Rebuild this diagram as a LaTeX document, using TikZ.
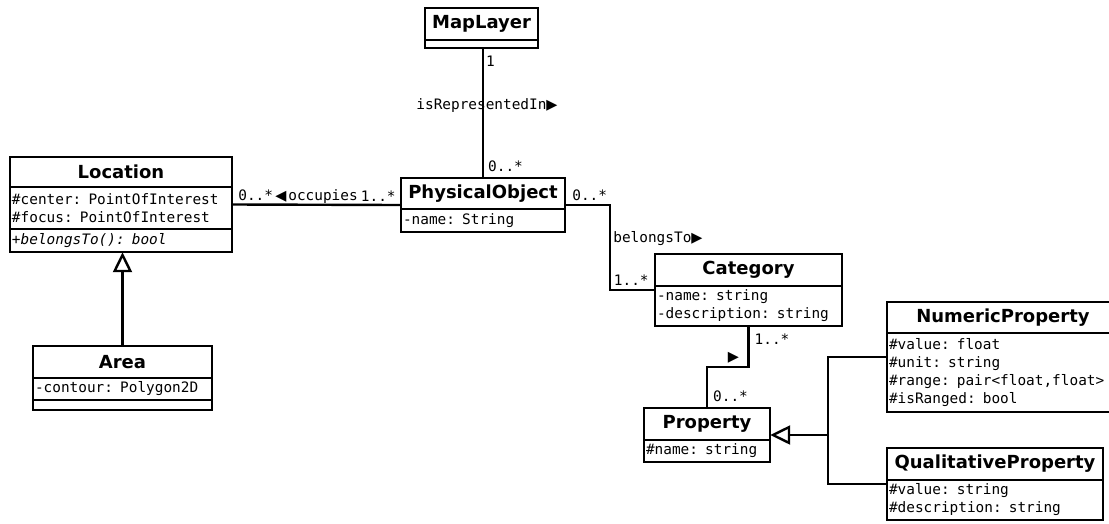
\documentclass[tikz,border=0pt]{standalone}
\usepackage{fontspec}
\setsansfont{DejaVu Sans}
\setmonofont{DejaVu Sans Mono}
\newfontfamily\trifont{DejaVu Sans}
\usepackage{tikz}
\usetikzlibrary{positioning,arrows.meta,calc,fit}
\newcommand{\clsfont}{\sffamily\bfseries\fontsize{18}{22}\selectfont}
\newcommand{\attfont}{\ttfamily\fontsize{14.4}{18}\selectfont}
\newcommand{\rtri}{{\trifont\char"25B6}}
\newcommand{\ltri}{{\trifont\char"25C0}}

\begin{document}
\begin{tikzpicture}[
    x=1pt, y=-1pt,
    ctitle/.style={draw, line width=2.4pt, outer sep=0pt, anchor=north west, inner sep=0pt, minimum height=32pt, font=\clsfont},
    cpart/.style={draw, line width=2.4pt, outer sep=0pt, anchor=north west, inner xsep=2pt, inner ysep=0pt, text width=#1, align=left, font=\attfont},
    cempty/.style={draw, line width=2.4pt, outer sep=0pt, anchor=north west, inner sep=0pt},
    assoc/.style={line width=2.4pt},
    inh/.style={line width=2.4pt, -{Triangle[open, length=20pt, width=19pt]}},
    lbl/.style={font=\attfont, inner sep=0pt},
]
\fill[white] (0,0) rectangle (1109,523);
\useasboundingbox (0,0) rectangle (1109,523);

% MapLayer
\node[ctitle, minimum width=113pt] (ml-t) at (425,8) {MapLayer};
\node[cempty, minimum width=113pt, minimum height=8pt] (ml-e) at (ml-t.south west) {};
\node[fit=(ml-t)(ml-e), inner sep=0pt] (ml) {};

% Location
\node[ctitle, minimum width=222pt, minimum height=30pt] (loc-t) at (10,157) {Location};
\node[cpart=218pt, minimum height=42pt] (loc-a) at (loc-t.south west) {\#center: PointOfInterest\\\#focus: PointOfInterest};
\node[cpart=218pt, minimum height=23pt] (loc-m) at (loc-a.south west) {\itshape +belongsTo(): bool};
\node[fit=(loc-t)(loc-m), inner sep=0pt] (loc) {};

% PhysicalObject
\node[ctitle, minimum width=164pt, minimum height=31pt] (po-t) at (401,178) {PhysicalObject};
\node[cpart=160pt, minimum height=23pt] (po-a) at (po-t.south west) {-name: String};
\node[fit=(po-t)(po-a), inner sep=0pt] (po) {};

% Category
\node[ctitle, minimum width=187pt] (cat-t) at (655,254) {Category};
\node[cpart=183pt, minimum height=40pt] (cat-a) at (cat-t.south west) {-name: string\\-description: string};
\node[fit=(cat-t)(cat-a), inner sep=0pt] (cat) {};

% Area
\node[ctitle, minimum width=179pt] (area-t) at (33,346) {Area};
\node[cpart=175pt, minimum height=22pt] (area-a) at (area-t.south west) {-contour: Polygon2D};
\node[cempty, minimum width=179pt, minimum height=10pt] (area-e) at (area-a.south west) {};
\node[fit=(area-t)(area-e), inner sep=0pt] (area) {};

% Property
\node[ctitle, minimum width=126pt] (prop-t) at (644,408) {Property};
\node[cpart=122pt, minimum height=22pt] (prop-a) at (prop-t.south west) {\#name: string};
\node[fit=(prop-t)(prop-a), inner sep=0pt] (prop) {};

% NumericProperty
\node[ctitle, minimum width=232pt, minimum height=31pt] (num-t) at (887,302) {NumericProperty};
\node[cpart=228pt, minimum height=79pt] (num-a) at (num-t.south west) {\#value: float\\\#unit: string\\\#range: pair<float,float>\\\#isRanged: bool};
\node[fit=(num-t)(num-a), inner sep=0pt] (num) {};

% QualitativeProperty
\node[ctitle, minimum width=216pt] (qual-t) at (887,448) {QualitativeProperty};
\node[cpart=212pt, minimum height=40pt] (qual-a) at (qual-t.south west) {\#value: string\\\#description: string};
\node[fit=(qual-t)(qual-a), inner sep=0pt] (qual) {};

% Associations
\draw[assoc] (po.north) -- (po.north |- ml.south)
  node[lbl, pos=0, anchor=south west, xshift=4pt, yshift=5pt] (po-ml) {0..*}
  node[lbl, pos=1, anchor=north west, xshift=2pt, yshift=-7pt] (ml-po) {1}
  node[lbl, pos=0.56, xshift=4pt] (rep) {isRepresentedIn\rtri};
\draw[assoc] (loc.east) -- (po.west)
  node[lbl, pos=0, anchor=base west, xshift=5pt, yshift=4pt] (loc-po) {0..*}
  node[lbl, midway, anchor=base, yshift=4pt] (occ) {\ltri\kern2pt occupies}
  node[lbl, pos=1, anchor=base east, xshift=-4pt, yshift=4pt] (po-loc) {1..*};
\draw[assoc] (po.east) -- ++(45,0)
  node[lbl, pos=0, anchor=base west, xshift=6pt, yshift=5pt] (po-cat) {0..*}
  |- (cat.west)
  node[lbl, pos=0.2, anchor=west, xshift=2pt] (bel) {belongsTo\rtri}
  node[lbl, pos=1, anchor=base east, xshift=-5pt, yshift=5pt] (cat-po) {1..*};
\draw[assoc] (cat.south) -- ++(0,41)
  node[lbl, pos=0, anchor=north west, xshift=5pt, yshift=-6pt] (cat-prop) {1..*}
  node[lbl, pos=1, xshift=-15pt, yshift=9pt] (dir) {\rtri}
  -| (prop.north)
  node[lbl, pos=1, anchor=base west, xshift=5pt, yshift=6pt] (prop-cat) {0..*};

% Generalizations
\coordinate (gj) at ($(prop.east)+(58,0)$);
\draw[assoc] (num.west) -| (gj);
\draw[assoc] (qual.west) -| (gj);
\draw[inh] (gj) -- (prop.east);
\draw[inh] (area.north) -- (area.north |- loc.south);
\end{tikzpicture}
\end{document}
